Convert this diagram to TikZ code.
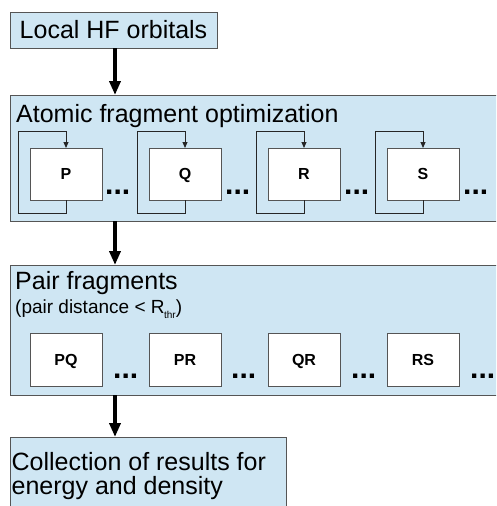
\documentclass[tikz,border=0pt]{standalone}
\usepackage{fontspec}
\setmainfont{Liberation Sans}
\usetikzlibrary{arrows.meta}
\definecolor{boxblue}{RGB}{207,230,243}
\definecolor{edgegray}{RGB}{85,85,85}
\begin{document}
\begin{tikzpicture}[x=1pt,y=-1pt,
  bluebox/.style={draw=edgegray,fill=boxblue,line width=1pt,inner sep=0pt,outer sep=0pt},
  fragbox/.style={draw=edgegray,fill=white,line width=1pt,minimum width=72pt,minimum height=52pt,inner sep=0pt,outer sep=0pt,text height=11.5pt,text depth=0pt,font=\fontsize{16}{16}\selectfont\bfseries},
  bigarrow/.style={line width=3.5pt,-{Triangle[width=11pt,length=14pt]}},
  looparrow/.style={draw=black!85,line width=0.9pt,-{Triangle[width=5pt,length=6pt]}},
  headtext/.style={font=\fontsize{25}{24}\selectfont,inner sep=0pt,anchor=base west},
  subtext/.style={font=\fontsize{19}{19}\selectfont,inner sep=0pt,anchor=base west},
  ellipsisdots/.style={font=\fontsize{30}{30}\selectfont\bfseries,inner sep=0pt,anchor=base west}]
\useasboundingbox (0,0) rectangle (496,506);
\clip (0,0) rectangle (496,506);
\coordinate (ax) at (115,0);
% main boxes
\node[bluebox,minimum width=207pt,minimum height=36pt,anchor=north west,font=\fontsize{25}{25}\selectfont] (local) at (10,12) {Local HF orbitals};
\node[bluebox,minimum width=495pt,minimum height=126pt,anchor=north west] (atomic) at (10,95) {};
\node[bluebox,minimum width=495pt,minimum height=130pt,anchor=north west] (pair) at (10,265) {};
\node[bluebox,minimum width=276pt,minimum height=80pt,anchor=north west] (collect) at (10,437) {};
% titles
\node[headtext] (atomictitle) at (16,122) {Atomic fragment optimization};
\node[headtext] (pairtitle) at (15,289) {Pair fragments};
\node[subtext] (pairsub) at (15,313) {(pair distance < R\kern-0.5pt\raisebox{-5pt}{\fontsize{10}{10}\selectfont thr})};
\node[headtext,anchor=north west,align=left] (collecttext) at (11.5,452) {Collection of results for\\energy and density};
% atomic fragments with loops
\foreach \n/\x in {P/30,Q/149,R/268,S/387}{
  \node[fragbox] (frag\n) at (\x+36,174) {\n};
  \draw[looparrow] (frag\n.south) -- ++(0,13) -| ++(-48,-82) -| (frag\n.north);
}
\foreach \x [count=\i] in {105,225,344,463}{
  \node[ellipsisdots] (adots\i) at (\x,194) {...};
}
% pair fragments
\foreach \n/\x in {PQ/30,PR/149,QR/268,RS/387}{
  \node[fragbox,minimum height=53pt] (pair\n) at (\x+36,359.5) {\n};
}
\foreach \x [count=\i] in {113,231,351,470}{
  \node[ellipsisdots] (pdots\i) at (\x,378) {...};
}
% main arrows
\draw[bigarrow] (local.south -| ax) -- (atomic.north -| ax);
\draw[bigarrow] (atomic.south -| ax) -- (pair.north -| ax);
\draw[bigarrow] (pair.south -| ax) -- (collect.north -| ax);
\end{tikzpicture}
\end{document}
